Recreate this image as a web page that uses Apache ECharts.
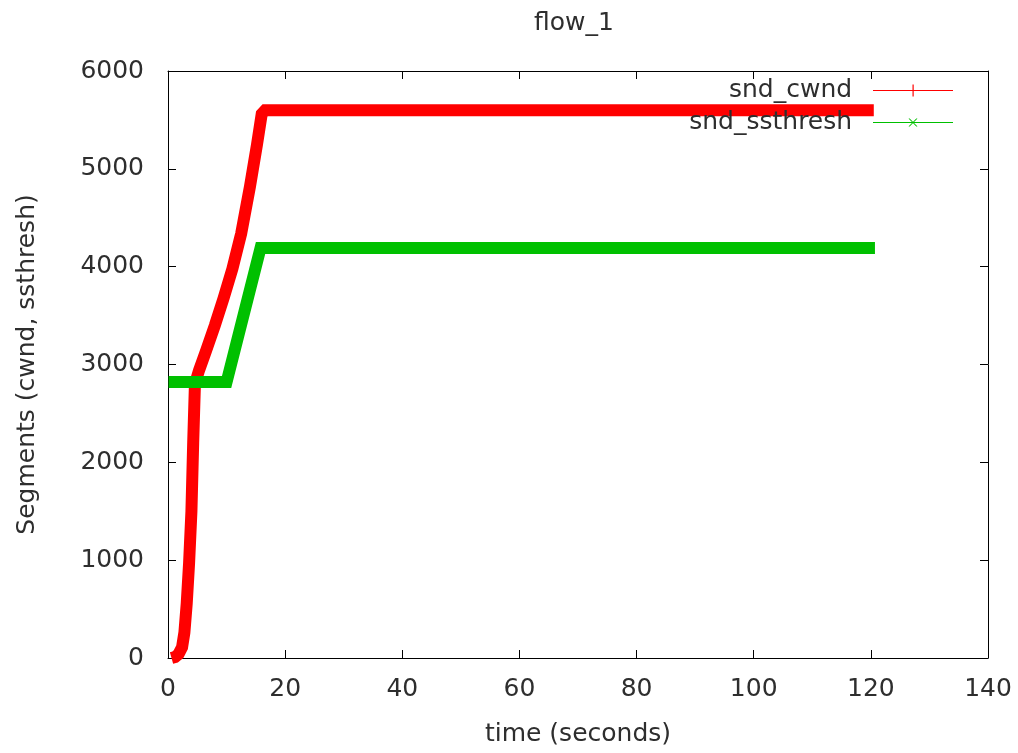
<!DOCTYPE html>
<html>
<head>
<meta charset="utf-8">
<script src="https://cdn.jsdelivr.net/npm/echarts@6/dist/echarts.min.js"></script>
<style>html,body{margin:0;padding:0;background:#fff}#c{width:1018px;height:753px}</style>
</head>
<body>
<div id="c"></div>
<script>
const chartTitle = 'flow_1';
const xName = 'time (seconds)';
const yName = 'Segments (cwnd, ssthresh)';
const seriesNames = ['snd_cwnd', 'snd_ssthresh'];
const cwndTime  = [0.6, 1.2, 1.8, 2.4, 2.8, 3.2, 3.6, 4.0, 4.3, 4.6, 5.3, 6.5, 8.0, 9.5, 11.0, 12.5, 14.0, 15.2, 16.0, 16.6, 120.5];
const cwndValue = [0, 10, 40, 110, 260, 560, 970, 1500, 2200, 2800, 2940, 3140, 3400, 3680, 3980, 4340, 4820, 5250, 5560, 5600, 5600];
const ssthreshTime  = [0.1, 10.0, 15.8, 120.7];
const ssthreshValue = [2820, 2820, 4190, 4190];

const font = 'DejaVu Sans';
const txt = '#2e2e2e';
function pairs(t, v) { return t.map((x, i) => [x, v[i]]); }

const chart = echarts.init(document.getElementById('c'), null, {renderer: 'canvas'});
const axisCommon = {
  axisLine: {show: true, onZero: false, lineStyle: {color: '#000', width: 1}},
  axisTick: {show: true, inside: true, length: 8, lineStyle: {color: '#000', width: 1}},
  splitLine: {show: false}
};
const plain = v => String(v);
chart.setOption({
  animation: false,
  backgroundColor: '#fff',
  title: {text: chartTitle, left: 529, top: 6, textStyle: {fontFamily: font, fontSize: 25, fontWeight: 'normal', color: txt}},
  grid: {left: 168, right: 30, top: 71, bottom: 95, containLabel: false, outerBoundsMode: 'none'},
  legend: {
    orient: 'vertical', right: 60, top: 73, align: 'right',
    itemWidth: 80, itemHeight: 12, itemGap: 7,
    formatter: name => name + '  ',
    textStyle: {fontFamily: font, fontSize: 25, color: txt, lineHeight: 24},
    data: [
      {name: seriesNames[0], icon: 'path://M0,5.5h80v1h-80z M39.5,0h1.2v12h-1.2z', itemStyle: {color: '#ff0000'}},
      {name: seriesNames[1], icon: 'path://M0,5.5h80v1h-80z M35.5,2 L36.7,2 L44.5,10 L43.3,10z M43.3,2 L44.5,2 L36.7,10 L35.5,10z M0,0h0.01v12h-0.01z', itemStyle: {color: '#00c000'}}
    ]
  },
  xAxis: [
    Object.assign({type: 'value', min: 0, max: 140, interval: 20, position: 'bottom',
      name: xName, nameLocation: 'middle', nameGap: 64,
      nameTextStyle: {fontFamily: font, fontSize: 25, color: txt},
      axisLabel: {fontFamily: font, fontSize: 25, color: txt, margin: 19, formatter: plain}}, axisCommon),
    Object.assign({type: 'value', min: 0, max: 140, interval: 20, position: 'top',
      axisLabel: {show: false}}, axisCommon)
  ],
  yAxis: [
    Object.assign({type: 'value', min: 0, max: 6000, interval: 1000, position: 'left',
      name: yName, nameLocation: 'middle', nameGap: 128, nameRotate: 90,
      nameTextStyle: {fontFamily: font, fontSize: 25, color: txt},
      axisLabel: {fontFamily: font, fontSize: 25, color: txt, margin: 24, formatter: plain}}, axisCommon),
    Object.assign({type: 'value', min: 0, max: 6000, interval: 1000, position: 'right',
      axisLabel: {show: false}}, axisCommon)
  ],
  series: [
    {name: seriesNames[0], type: 'line', xAxisIndex: 0, yAxisIndex: 0, data: pairs(cwndTime, cwndValue),
      symbol: 'none', color: '#ff0000', lineStyle: {width: 12, color: '#ff0000', join: 'miter'}},
    {name: seriesNames[1], type: 'line', xAxisIndex: 0, yAxisIndex: 0, data: pairs(ssthreshTime, ssthreshValue),
      symbol: 'none', color: '#00c000', lineStyle: {width: 12, color: '#00c000', join: 'miter'}}
  ]
});
</script>
</body>
</html>
